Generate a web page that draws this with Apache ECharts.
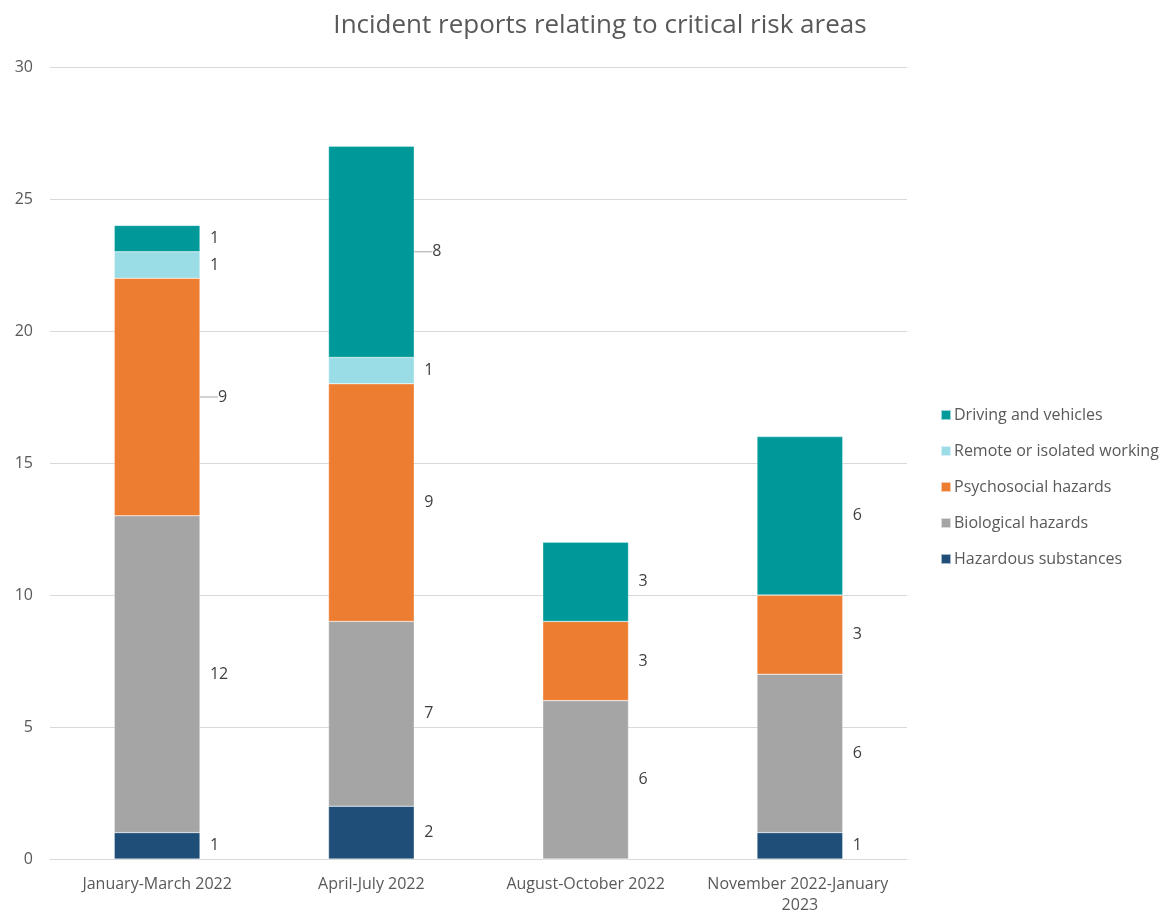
<!DOCTYPE html>
<html>
<head>
<meta charset="utf-8">
<title>Incident reports relating to critical risk areas</title>
<script src="https://cdn.jsdelivr.net/npm/echarts@6/dist/echarts.min.js"></script>
<style>
  html, body { margin: 0; padding: 0; background: #ffffff; }
  #chart { width: 1172px; height: 912px; }
</style>
</head>
<body>
<div id="chart"></div>
<script>
// Reporting periods
const periods = ['January-March 2022', 'April-July 2022', 'August-October 2022', 'November 2022-January 2023'];

// Incident counts per critical risk area, one value per period
const hazardousSubstances = [1, 2, 0, 1];
const biologicalHazards = [12, 7, 6, 6];
const psychosocialHazards = [9, 9, 3, 3];
const remoteWorking = [1, 1, 0, 0];
const drivingVehicles = [1, 8, 3, 6];

const yTicks = { min: 0, max: 30, interval: 5 };

const FONT = '"Open Sans", Lato, sans-serif';
const TEXT = '#595959';

const seriesDefs = [
  { name: 'Hazardous substances', data: hazardousSubstances, color: '#1f4e79' },
  { name: 'Biological hazards', data: biologicalHazards, color: '#a5a5a5' },
  { name: 'Psychosocial hazards', data: psychosocialHazards, color: '#ed7d31' },
  { name: 'Remote or isolated working', data: remoteWorking, color: '#9bdde6' },
  { name: 'Driving and vehicles', data: drivingVehicles, color: '#009999' }
];

// Labels nudged further out, with a short leader line back to the bar
const nudged = [[2, 0], [4, 1]];
function isNudged(s, d) {
  return nudged.some(function (n) { return n[0] === s && n[1] === d; });
}

const chart = echarts.init(document.getElementById('chart'), null, { renderer: 'canvas' });

chart.setOption({
  animation: false,
  backgroundColor: '#ffffff',
  textStyle: { fontFamily: FONT },
  title: {
    text: 'Incident reports relating to critical risk areas',
    left: 595,
    textAlign: 'center',
    top: 8,
    textStyle: { fontFamily: FONT, fontSize: 26, fontWeight: 'normal', color: TEXT }
  },
  legend: {
    orient: 'vertical',
    left: 935,
    top: 399,
    itemWidth: 10,
    itemHeight: 10,
    itemGap: 14,
    icon: 'rect',
    data: ['Driving and vehicles', 'Remote or isolated working', 'Psychosocial hazards', 'Biological hazards', 'Hazardous substances'],
    textStyle: { fontFamily: FONT, fontSize: 16, lineHeight: 22, color: TEXT, padding: [0, 0, 0, -2] }
  },
  grid: {
    left: 50,
    right: 265,
    top: 67,
    bottom: 53,
    containLabel: false,
    outerBoundsMode: 'none'
  },
  xAxis: {
    type: 'category',
    data: periods,
    axisLine: { show: true, lineStyle: { color: '#d9d9d9', width: 1 } },
    axisTick: { show: false },
    axisLabel: {
      interval: 0,
      margin: 15,
      fontFamily: FONT,
      fontSize: 16,
      color: TEXT,
      width: 200,
      overflow: 'break',
      lineHeight: 21
    }
  },
  yAxis: {
    type: 'value',
    min: yTicks.min,
    max: yTicks.max,
    interval: yTicks.interval,
    axisLine: { show: false },
    axisTick: { show: false },
    splitLine: { lineStyle: { color: '#d9d9d9', width: 1 } },
    axisLabel: { margin: 17, fontFamily: FONT, fontSize: 16, color: TEXT }
  },
  labelLayout: function (p) {
    return isNudged(p.seriesIndex, p.dataIndex) ? { dx: 8 } : {};
  },
  series: seriesDefs.map(function (s, si) {
    return {
      name: s.name,
      type: 'bar',
      stack: 'total',
      barWidth: '40%',
      data: s.data.map(function (v, di) {
        return isNudged(si, di)
          ? { value: v, labelLine: { show: true } }
          : v;
      }),
      itemStyle: { color: s.color, borderColor: 'rgba(255,255,255,0.6)', borderWidth: 0.5 },
      label: {
        show: true,
        position: 'right',
        distance: 10,
        fontFamily: FONT,
        fontSize: 16,
        color: '#404040',
        formatter: function (p) { return p.value ? String(p.value) : ''; }
      },
      labelLine: { show: false, smooth: 0.3, lineStyle: { color: '#a6a6a6', width: 1 } }
    };
  })
});
</script>
</body>
</html>
